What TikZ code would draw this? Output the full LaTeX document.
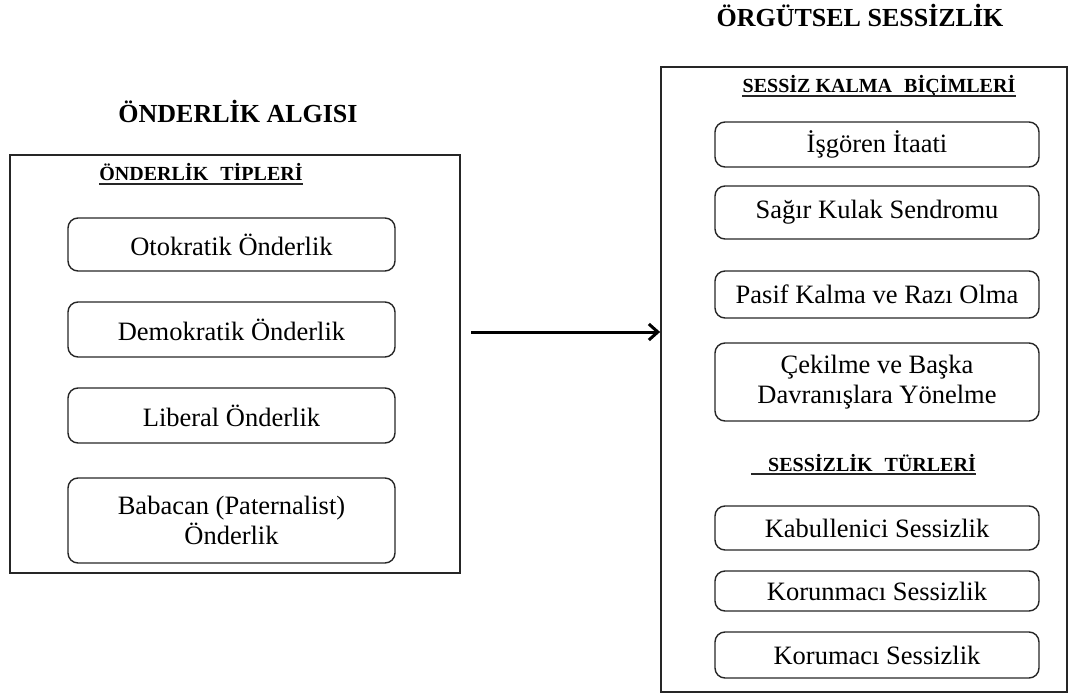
\documentclass[tikz,border=0pt]{standalone}
\usepackage{fontspec}
\setmainfont{Liberation Serif}[BoldFont={Liberation Serif Bold}]
\usetikzlibrary{arrows.meta}
\begin{document}
\begin{tikzpicture}[x=1pt,y=-1pt,
  outer/.style={draw=black!85,line width=1.8pt,inner sep=0pt},
  item/.style={draw=black!85,line width=1.4pt,rounded corners=10pt,align=center,inner sep=0pt,
    font=\fontsize{26.5}{29.5}\selectfont},
  title/.style={font=\fontsize{26}{30}\selectfont\bfseries,inner sep=0pt,anchor=base},
  sub/.style={font=\fontsize{20}{24}\selectfont\bfseries,inner sep=0pt,anchor=base},
  uline/.style={line width=1.5pt,draw=black!85},
  link/.style={line width=3pt,-{Straight Barb[length=9pt,width=16pt,line width=3pt]}}]
\useasboundingbox (0,0) rectangle (1069,695);

% left group
\node[outer,minimum width=450pt,minimum height=418pt] (L) at (235,364) {};
\node[title] (tL) at (238,123) {ÖNDERLİK ALGISI};
\node[sub] (sL) at (201,181) {ÖNDERLİK\hspace{0.35em} TİPLERİ};
\draw[uline] ([yshift=-3pt]sL.base west) -- ([yshift=-3pt]sL.base east);

\node[item,minimum width=327pt,minimum height=53pt] (l1) at (231.5,244.5) {Otokratik Önderlik};
\node[item,minimum width=327pt,minimum height=55pt] (l2) at (231.5,329.5) {Demokratik Önderlik};
\node[item,minimum width=327pt,minimum height=55pt] (l3) at (231.5,415.5) {Liberal Önderlik};
\node[item,minimum width=327pt,minimum height=85pt] (l4) at (231.5,520.5) {Babacan (Paternalist)\\Önderlik};

% right group
\node[outer,minimum width=406pt,minimum height=625pt] (R) at (864,379.5) {};
\node[title] (tR) at (860,27) {ÖRGÜTSEL SESSİZLİK};
\node[sub] (sR1) at (879,93) {SESSİZ KALMA\hspace{0.35em} BİÇİMLERİ};
\draw[uline] ([yshift=-3pt]sR1.base west) -- ([yshift=-3pt]sR1.base east);

\node[item,minimum width=324pt,minimum height=45pt] (r1) at (877,144.5) {İşgören İtaati};
\node[item,minimum width=324pt,minimum height=53pt] (r2) at (877,212.5) {Sağır Kulak Sendromu};
\node[item,minimum width=324pt,minimum height=47pt] (r3) at (877,294.5) {Pasif Kalma ve Razı Olma};
\node[item,minimum width=324pt,minimum height=78pt] (r4) at (877,382) {Çekilme ve Başka\\Davranışlara Yönelme};

\node[sub] (sR2) at (872,471) {SESSİZLİK\hspace{0.35em} TÜRLERİ};
\draw[uline] ([xshift=-17pt,yshift=-3pt]sR2.base west) -- ([yshift=-3pt]sR2.base east);

\node[item,minimum width=324pt,minimum height=44pt] (r5) at (877,528) {Kabullenici Sessizlik};
\node[item,minimum width=324pt,minimum height=40pt] (r6) at (877,591) {Korunmacı Sessizlik};
\node[item,minimum width=324pt,minimum height=46pt] (r7) at (877,655) {Korumacı Sessizlik};

% connector
\coordinate (as) at (471,332);
\draw[link] (as) -- (as -| R.west);
\end{tikzpicture}
\end{document}
